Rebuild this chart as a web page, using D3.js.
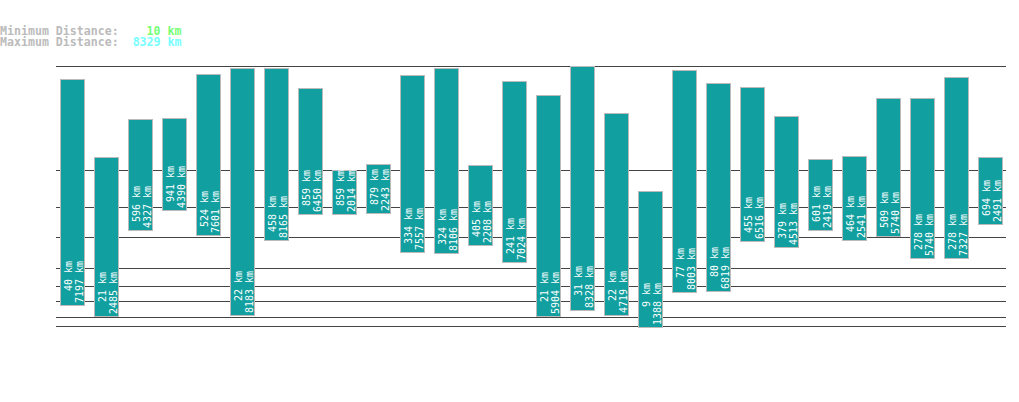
<!DOCTYPE html>
<html>
<head>
<meta charset="utf-8">
<script src="https://cdn.jsdelivr.net/npm/d3@7"></script>
<style>
  body { margin: 0; background: #fff; }
  text { font-family: "DejaVu Sans Mono", monospace; white-space: pre; }
</style>
</head>
<body>
<div id="container"></div>
<script>
// distances min / max par barre (km)
const mins = [40, 21, 596, 941, 524, 22, 458, 859, 859, 879, 334, 324, 405, 241, 21, 31, 22, 9, 77, 80, 455, 379, 601, 464, 509, 278, 278, 694];
const maxs = [7197, 2485, 4327, 4390, 7601, 8183, 8165, 6450, 2014, 2243, 7557, 8106, 2208, 7024, 5904, 8328, 4719, 1388, 8003, 6819, 6516, 4513, 2419, 2541, 5740, 5740, 7327, 2491];
const minDistance = 10;
const maxDistance = 8329;
const gridValues = [10, 20, 50, 100, 200, 500, 1000, 2000, 8329];

const width = 1019;
const height = 402;

const svg = d3.select("#container").append("svg")
    .attr("width", width)
    .attr("height", height);

// en-tête
const header = svg.append("g")
    .style("font-family", "'Liberation Mono', 'DejaVu Sans Mono', monospace")
    .style("font-size", "11.6px")
    .style("font-weight", "bold");
const l1 = header.append("text").attr("x", 0).attr("y", 35);
l1.append("tspan").attr("fill", "#bbbbbb").text("Minimum Distance:");
l1.append("tspan").attr("fill", "#77ff77").text(String(minDistance).padStart(6) + " km");
const l2 = header.append("text").attr("x", 0).attr("y", 46);
l2.append("tspan").attr("fill", "#bbbbbb").text("Maximum Distance:");
l2.append("tspan").attr("fill", "#77ffff").text(String(maxDistance).padStart(6) + " km");

const data = mins.map((m, i) => ({ i: i, min: m, max: maxs[i] }));

const x = d3.scaleBand()
    .domain(data.map(d => d.i))
    .range([56, 1006])
    .paddingInner(0.3)
    .paddingOuter(0.12);

const y = d3.scalePow()
    .exponent(0.3)
    .domain([minDistance, maxDistance])
    .range([326, 66]);

// lignes horizontales
svg.append("g")
    .attr("stroke", "#444")
    .attr("stroke-width", 1)
    .selectAll("line")
    .data(gridValues)
    .join("line")
    .attr("x1", 56)
    .attr("x2", 1006)
    .attr("y1", d => Math.round(y(d)) + 0.5)
    .attr("y2", d => Math.round(y(d)) + 0.5);

const bar = svg.append("g")
    .selectAll("g")
    .data(data)
    .join("g");

bar.append("rect")
    .attr("x", d => Math.round(x(d.i)) + 0.5)
    .attr("y", d => Math.round(y(d.max)) + 0.5)
    .attr("width", Math.round(x.bandwidth()))
    .attr("height", d => Math.round(y(d.min)) - Math.round(y(d.max)))
    .attr("fill", "#11a09f")
    .attr("stroke", "#bbbbbb")
    .attr("stroke-width", 1);

const lab = bar.append("text")
    .attr("font-size", "10px")
    .attr("fill", "#fff")
    .attr("transform", d => `translate(${Math.round(x(d.i))},${Math.round(y(d.min)) - 2}) rotate(-90)`);

lab.append("tspan")
    .attr("x", 0)
    .attr("y", 11.5)
    .text(d => (d.min + " km").padStart((d.max + " km").length));
lab.append("tspan")
    .attr("x", 0)
    .attr("y", 22.5)
    .text(d => d.max + " km");
</script>
</body>
</html>
